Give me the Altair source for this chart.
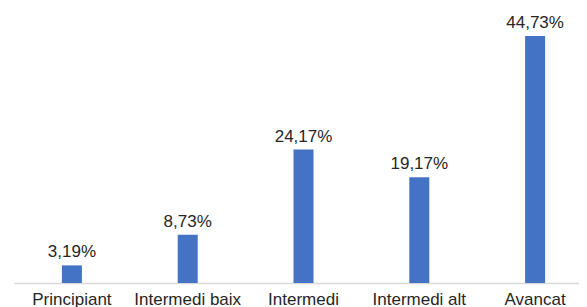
import altair as alt
import pandas as pd

categories = ["Principiant", "Intermedi baix", "Intermedi", "Intermedi alt", "Avancat"]
values = [3.19, 8.73, 24.17, 19.17, 44.73]
labels = ["3,19%", "8,73%", "24,17%", "19,17%", "44,73%"]

df = pd.DataFrame({"cat": categories, "val": values, "lab": labels})

x = alt.X("cat:N", sort=categories, title=None,
          scale=alt.Scale(paddingInner=0, paddingOuter=0, range=[0, 579]),
          axis=alt.Axis(labelAngle=0, labelFont="Liberation Sans", labelFontSize=17,
                        labelColor="#262626", labelPadding=8, ticks=False,
                        domainColor="#d9d9d9", domainWidth=1.5, labelLimit=200))
y = alt.Y("val:Q", title=None, scale=alt.Scale(domain=[0, 49.8], nice=False), axis=None)

bars = alt.Chart(df).mark_bar(size=20, color="#4472C4").encode(x=x, y=y)
text = alt.Chart(df).mark_text(baseline="alphabetic", dy=-8, font="Liberation Sans",
                               fontSize=17, color="#262626").encode(x=x, y=y, text="lab:N")

chart = (bars + text).properties(
    width=565, height=275,
    padding={"left": 6, "top": 0, "right": 0, "bottom": 24},
    autosize=alt.AutoSizeParams(type="none"),
).configure(background="white").configure_view(stroke=None)

chart.save("out.html", embed_options={"renderer": "svg", "actions": False})
